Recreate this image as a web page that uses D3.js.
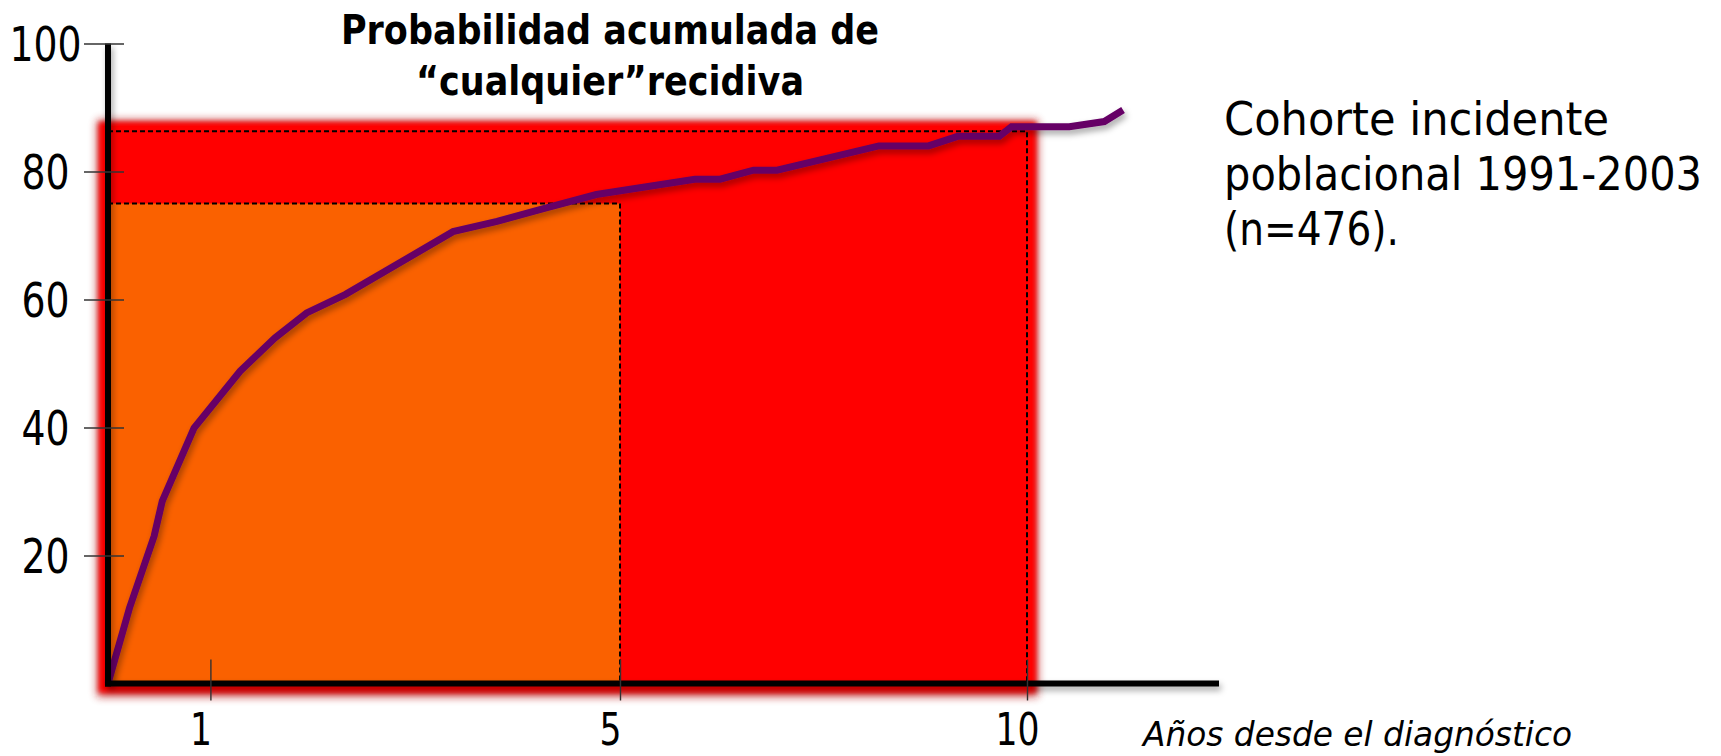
<!DOCTYPE html>
<html lang="es">
<head>
<meta charset="utf-8">
<script src="https://cdn.jsdelivr.net/npm/d3@7"></script>
<style>
  html, body { margin: 0; padding: 0; background: #ffffff; }
  svg { display: block; }
  text { font-family: "DejaVu Sans Condensed", "DejaVu Sans", sans-serif; font-stretch: condensed; fill: #000; }
</style>
</head>
<body>
<div id="chart"></div>
<script>
// Cumulative probability of any recurrence (%) by years since diagnosis
const years      = [0, 0.21, 0.45, 0.53, 0.84, 1.29, 1.63, 1.94, 2.32, 3.37, 3.80, 4.28, 4.77, 5.92, 6.23, 6.64, 6.93, 8.18, 8.79, 9.15, 9.66, 9.81, 10.52, 10.95, 11.18];
const recurrence = [0, 11.8, 23.0, 28.5, 39.9, 48.8, 54.0, 57.9, 60.8, 70.6, 72.2, 74.3, 76.4, 78.8, 78.8, 80.2, 80.2, 84.0, 84.0, 85.5, 85.5, 87.0, 87.0, 87.8, 89.6];

// Highlighted areas: share reached at 5 and at 10 years
const fiveYear = { years: 5, share: 75 };
const tenYear  = { years: 10, share: 86.3 };

// Axis ticks and labels
const yTicks = [20, 40, 60, 80, 100];
const xTicks = [1, 5, 10];
const xBreaks = [0, 5, 10];
const titleLines = ["Probabilidad acumulada de", "\u201Ccualquier\u201Drecidiva"];
const noteLines  = ["Cohorte incidente", "poblacional 1991-2003", "(n=476)."];
const xAxisTitle = "A\u00F1os desde el diagn\u00F3stico";

const W = 1721, H = 756;
const svg = d3.select("#chart").append("svg").attr("width", W).attr("height", H);

// Scales (the time axis is drawn with a wider first five years)
const x = d3.scaleLinear().domain(xBreaks).range([108, 620, 1027]);
const y = d3.scaleLinear().domain([0, 100]).range([683.5, 43.5]);

const defs = svg.append("defs");
const soft = defs.append("filter").attr("id", "soft").attr("x", "-5%").attr("y", "-5%").attr("width", "110%").attr("height", "110%");
soft.append("feGaussianBlur").attr("stdDeviation", 2.6);
const glow = defs.append("filter").attr("id", "glow").attr("x", "-5%").attr("y", "-5%").attr("width", "110%").attr("height", "110%");
glow.append("feGaussianBlur").attr("stdDeviation", 4);
const shadow = defs.append("filter").attr("id", "shadow").attr("x", "-5%").attr("y", "-10%").attr("width", "110%").attr("height", "130%");
shadow.append("feDropShadow").attr("dx", 2).attr("dy", 4).attr("stdDeviation", 3)
  .attr("flood-color", "#000").attr("flood-opacity", 0.35);

// Ten-year area (red, soft edged)
const pad = 9;
const redX0 = x(0) - pad, redX1 = x(tenYear.years) + pad;
const redY0 = y(tenYear.share) - pad, redY1 = y(0) + pad;
svg.append("rect")
  .attr("x", redX0 - 2).attr("y", redY0 - 2)
  .attr("width", redX1 - redX0 + 4).attr("height", redY1 - redY0 + 6)
  .attr("fill", "#b81c1c").attr("opacity", 0.8).attr("filter", "url(#glow)");
svg.append("rect")
  .attr("x", redX0).attr("y", redY0)
  .attr("width", redX1 - redX0).attr("height", redY1 - redY0)
  .attr("fill", "#ff0000").attr("filter", "url(#soft)");
svg.append("rect")
  .attr("x", redX0 + 4).attr("y", redY0 + 4)
  .attr("width", redX1 - redX0 - 8).attr("height", redY1 - redY0 - 8)
  .attr("fill", "#ff0000");

// Five-year area (orange)
svg.append("rect")
  .attr("x", x(0)).attr("y", y(fiveYear.share))
  .attr("width", x(fiveYear.years) - x(0)).attr("height", y(0) - y(fiveYear.share))
  .attr("fill", "#fa6100");

// Dashed reference outlines
[tenYear, fiveYear].forEach(d => {
  svg.append("rect")
    .attr("x", x(0)).attr("y", y(d.share))
    .attr("width", x(d.years) - x(0)).attr("height", y(0) - y(d.share))
    .attr("fill", "none").attr("stroke", "#000").attr("stroke-width", 2)
    .attr("stroke-dasharray", "5,3");
});

// Curve
const line = d3.line().x((d, i) => x(years[i])).y(d => y(d));
svg.append("path")
  .datum(recurrence)
  .attr("d", line)
  .attr("fill", "none")
  .attr("stroke", "#660066")
  .attr("stroke-width", 7)
  .attr("stroke-linejoin", "miter")
  .attr("filter", "url(#shadow)");

// Axis lines
const axes = svg.append("g").attr("filter", "url(#shadow)");
axes.append("line")
  .attr("x1", x(0)).attr("x2", x(0))
  .attr("y1", y(100)).attr("y2", y(0) + 3)
  .attr("stroke", "#000").attr("stroke-width", 6);
axes.append("line")
  .attr("x1", x(0) - 3).attr("x2", 1219)
  .attr("y1", y(0)).attr("y2", y(0))
  .attr("stroke", "#000").attr("stroke-width", 6);

// Y axis ticks and labels (labels centred in the left margin)
const yAxisX = x(0) + 16;
const yAxis = svg.append("g")
  .attr("transform", `translate(${yAxisX},0)`)
  .call(d3.axisLeft(y).tickValues(yTicks).tickSize(40).tickFormat(d3.format("d")));
yAxis.select(".domain").remove();
yAxis.selectAll(".tick line").attr("stroke", "#333").attr("stroke-width", 1.4);
yAxis.selectAll(".tick text")
  .attr("font-size", 48).attr("fill", "#000")
  .attr("text-anchor", "middle")
  .attr("x", 45.5 - yAxisX)
  .attr("dy", "0.36em")
  .attr("font-family", '"DejaVu Sans Condensed", "DejaVu Sans", sans-serif')
  .attr("textLength", d => String(d).length * 24)
  .attr("lengthAdjust", "spacingAndGlyphs");

// X axis ticks and labels
const xAxis = svg.append("g")
  .attr("transform", `translate(0,${y(0) - 24})`)
  .call(d3.axisBottom(x).tickValues(xTicks).tickSize(41).tickFormat(d3.format("d")));
xAxis.select(".domain").remove();
xAxis.selectAll(".tick line").attr("stroke", "#333").attr("stroke-width", 1.4);
xAxis.selectAll(".tick text")
  .attr("font-size", 44).attr("fill", "#000")
  .attr("dy", null).attr("y", 85.5).attr("x", -10)
  .attr("font-family", '"DejaVu Sans Condensed", "DejaVu Sans", sans-serif')
  .attr("textLength", d => String(d).length * 22)
  .attr("lengthAdjust", "spacingAndGlyphs");

// Title
const titleWidths = [538, 388];
svg.append("g").selectAll("text").data(titleLines).join("text")
  .attr("x", 610).attr("y", (d, i) => 44 + i * 51)
  .attr("text-anchor", "middle")
  .attr("font-size", 41).attr("font-weight", "bold")
  .attr("textLength", (d, i) => titleWidths[i])
  .attr("lengthAdjust", "spacingAndGlyphs")
  .text(d => d);

// Cohort note
const noteWidths = [385, 478, 175];
svg.append("g").selectAll("text").data(noteLines).join("text")
  .attr("x", 1224).attr("y", (d, i) => 135 + i * 55)
  .attr("font-size", 47)
  .attr("textLength", (d, i) => noteWidths[i])
  .attr("lengthAdjust", "spacingAndGlyphs")
  .text(d => d);

// X axis title
svg.append("text")
  .attr("x", 1143).attr("y", 746)
  .attr("font-size", 34).attr("font-style", "italic")
  .attr("textLength", 429).attr("lengthAdjust", "spacingAndGlyphs")
  .text(xAxisTitle);
</script>
</body>
</html>
